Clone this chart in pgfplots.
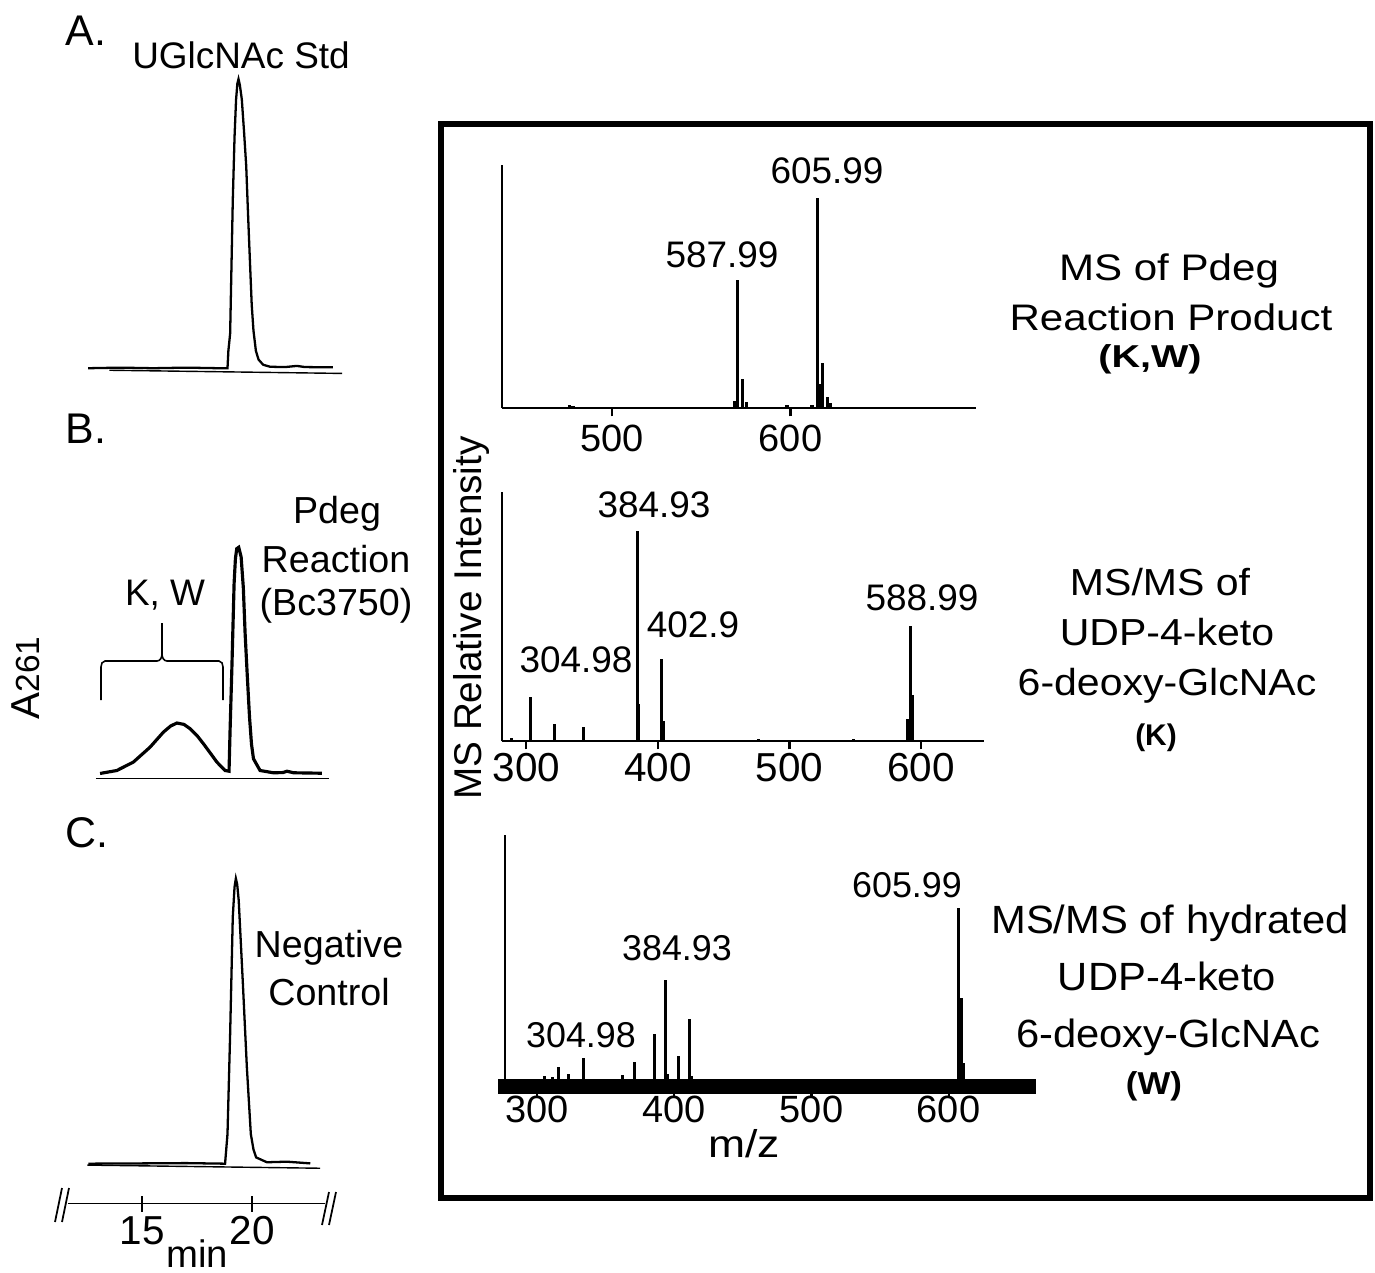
\documentclass[border=0pt]{standalone}
\usepackage{fontspec}
\setmainfont{Liberation Sans}
\usepackage{graphicx}
\usepackage{pgfplots}
\pgfplotsset{compat=1.18}

\newcommand\fs[1]{\fontsize{#1}{#1}\selectfont}

\pgfplotsset{
  chrom/.style={scale only axis, anchor=south west, clip=false,
    xmin=11.636, xmax=23.318, width=2.57cm},
  ms/.style={scale only axis, anchor=south west, clip=false,
    axis x line=bottom, axis y line=left, axis line style={-, line width=0.6pt},
    ymin=0, ymax=1, ytick=\empty, tick align=outside,
    major tick length=0.08cm, xtick style={line width=0.6pt, black},
    /pgf/number format/assume math mode=true},
  stick/.style={ycomb, black, mark=none, line width=1pt},
}

\begin{document}
\begin{tikzpicture}[x=0.01cm, y=-0.01cm]
\useasboundingbox (0,0) rectangle (1375,1272);

% ---------------- HPLC traces (minutes vs A261) ----------------
\begin{axis}[chrom, axis lines=none, at={(0.68cm,-3.969cm)},
    ymin=-0.1, ymax=1, height=3.179cm]
\addplot[black, line width=0.65pt] coordinates {
 (12.55,0) (14.0,0.002) (15.5,0) (17.0,0.002) (18.5,0) (18.88,0)
 (18.92,0.06) (19.0,0.12) (19.06,0.35) (19.12,0.58) (19.2,0.80)
 (19.27,0.93) (19.33,0.985) (19.38,1.0) (19.44,0.98) (19.53,0.93)
 (19.63,0.82) (19.73,0.70) (19.82,0.52) (19.91,0.35) (19.98,0.22)
 (20.06,0.13) (20.17,0.06) (20.29,0.03) (20.5,0.012) (20.82,0.005)
 (21.5,0.004) (22.03,0.008) (22.4,0.004) (23.67,0.003)};
\addplot[black, line width=0.4pt] coordinates {(13.51,-0.007) (24.09,-0.018)};
\end{axis}

\begin{axis}[chrom, axis lines=none, at={(0.68cm,-7.956cm)},
    ymin=-0.1, ymax=1, height=2.486cm]
\addplot[black, line width=0.9pt] coordinates {
 (13.09,0) (13.85,0.013) (14.6,0.05) (15.36,0.116) (15.97,0.183)
 (16.3,0.21) (16.58,0.223) (16.9,0.217) (17.18,0.198) (17.5,0.167)
 (17.79,0.131) (18.1,0.09) (18.4,0.05) (18.77,0.013) (18.95,0.01)
 (19.0,0.2) (19.08,0.47) (19.18,0.84) (19.24,0.95) (19.30,0.994)
 (19.39,1.0) (19.5,0.957) (19.6,0.82) (19.68,0.62) (19.78,0.43)
 (19.88,0.25) (19.97,0.13) (20.06,0.065) (20.36,0.013) (20.97,0.003)
 (21.4,0.004) (21.58,0.01) (21.88,0.003) (23.17,0.001)};
\addplot[black, line width=0.4pt] coordinates {(12.9,-0.021) (23.47,-0.021)};
\end{axis}

\begin{axis}[chrom, at={(0.68cm,-12.03cm)}, ymin=-0.1404, ymax=1, height=3.25cm,
    axis x line=bottom, axis y line=none, axis line style={-, line width=0.4pt},
    xtick={15,20}, tick align=center, major tick length=0.16cm,
    xtick style={black, line width=0.4pt},
    /pgf/number format/assume math mode=true,
    xticklabel style={anchor=base, yshift=-0.33cm, font=\fs{11.5}}]
\addplot[black, line width=0.65pt] coordinates {
 (12.56,0) (15.0,0.001) (17.0,0.002) (18.77,0) (18.88,0.104)
 (19.0,0.455) (19.12,0.865) (19.2,0.97) (19.26,1.0) (19.32,0.98)
 (19.39,0.923) (19.58,0.63) (19.76,0.338) (19.94,0.104) (20.06,0.05)
 (20.18,0.022) (20.67,0.005) (21.58,0.007) (22.64,0.001)};
\addplot[black, line width=0.4pt] coordinates {(12.51,-0.005) (23.09,-0.016)};
\end{axis}

% ---------------- MS spectra ----------------
\begin{axis}[ms, at={(5.02cm,-4.08cm)}, xmin=438.2, xmax=703.9, width=4.73cm, height=2.43cm,
    xtick={500,600}, xticklabel style={anchor=base, yshift=-0.35cm, font=\fs{10.8}}]
\addplot[stick] coordinates {
 (476,0.012) (478,0.008) (568.8,0.03) (570.2,0.527) (573.0,0.12) (575.3,0.025)
 (598,0.012) (612,0.015) (615.2,0.864) (616.5,0.10) (617.9,0.185)
 (620.8,0.045) (622.5,0.02)};
\end{axis}

\begin{axis}[ms, at={(5.02cm,-7.41cm)}, xmin=281.75, xmax=647.5, width=4.81cm, height=2.49cm,
    xtick={300,400,500,600}, xticklabel style={anchor=base, yshift=-0.32cm, font=\fs{11.5}}]
\addplot[stick, line width=0.9pt] coordinates {
 (288.6,0.012) (303.0,0.18) (321.3,0.072) (343.3,0.056)
 (384.4,0.843) (385.2,0.15) (402.6,0.33) (404.2,0.084)
 (476.4,0.01) (548.6,0.01) (589.7,0.092) (592.0,0.462) (593.5,0.185)};
\end{axis}

\begin{axis}[ms, at={(5.05cm,-10.855cm)}, xmin=276.6, xmax=663.5, width=5.30cm, height=2.505cm,
    ymin=-0.0309, major tick length=0.12cm,
    x axis line style={line width=4.3pt, shorten <=-0.07cm},
    xtick={300,400,500,600}, xticklabel style={anchor=base, yshift=-0.245cm, font=\fs{10.8}}]
\addplot[stick, line width=0.9pt] coordinates {
 (305.1,0.01) (310.9,0.008) (315.3,0.049) (322.6,0.02) (333.6,0.086)
 (362.0,0.016) (370.8,0.07) (385.4,0.185) (393.4,0.407) (394.9,0.02)
 (402.9,0.095) (410.9,0.247) (412.4,0.012)
 (607.3,0.70) (609.5,0.33) (611.0,0.066)};
\end{axis}

% ---------------- frame, brace, breaks ----------------
\draw[line width=1.6pt] (441,124) rectangle (1370,1198);
\draw[line width=0.45pt] (101,700) -- (101,667) to[out=90,in=180] (105,661) -- (157,661)
  to[out=0,in=-90] (162,654) -- (162,623);
\draw[line width=0.45pt] (162,654) to[out=-90,in=180] (167,661) -- (219,661)
  to[out=0,in=90] (223,667) -- (223,700);
\draw[line width=0.5pt] (55,1222) -- (62,1188) (62,1222) -- (69,1188)
  (322,1225) -- (329,1192) (329,1225) -- (336,1192);

% ---------------- texts ----------------
\node[anchor=base west, inner sep=0, font=\fs{12.2}] at (65,45) {A.};
\node[anchor=base, font=\fs{10.5}] at (241,68) {UGlcNAc Std};
\node[anchor=base west, inner sep=0, font=\fs{12.2}] at (65,443) {B.};
\node[anchor=base, font=\fs{10.5}] at (165,605) {K, W};
\node[anchor=base, font=\fs{10.7}] at (337,523) {Pdeg};
\node[anchor=base, font=\fs{10.7}] at (336,572) {Reaction};
\node[anchor=base, font=\fs{10.7}] at (336,615) {(Bc3750)};
\node[anchor=base west, inner sep=0, font=\fs{12.2}] at (65,847) {C.};
\node[anchor=base, font=\fs{10.7}] at (329,957) {Negative};
\node[anchor=base, font=\fs{10.7}] at (329,1005) {Control};
\node[anchor=base, inner sep=0, font=\fs{10.9}] at (197,1267) {min};
\node[anchor=base, rotate=90, font=\fs{11.5}] at (40,678) {A{\fs{9.5}261}};

\node[anchor=base, rotate=90, font=\fs{11}] at (481,618) {MS Relative Intensity};
\node[anchor=base, font=\fs{11}] at (744,1157) {\scalebox{1.15}[1]{m/z}};

\node[anchor=base, font=\fs{10.5}] at (722,267) {587.99};
\node[anchor=base, font=\fs{10.5}] at (827,183) {605.99};
\node[anchor=base, font=\fs{10.5}] at (654,517) {384.93};
\node[anchor=base, font=\fs{10.5}] at (693,637) {402.9};
\node[anchor=base, font=\fs{10.5}] at (576,672) {304.98};
\node[anchor=base, font=\fs{10.5}] at (922,610) {588.99};
\node[anchor=base, font=\fs{10.2}] at (907,897) {605.99};
\node[anchor=base, font=\fs{10.2}] at (677,960) {384.93};
\node[anchor=base, font=\fs{10.2}] at (581,1047) {304.98};

\node[anchor=base, font=\fs{10.5}] at (1169,280) {\scalebox{1.14}[1]{MS of Pdeg}};
\node[anchor=base, font=\fs{10.5}] at (1171,330) {\scalebox{1.14}[1]{Reaction Product}};
\node[anchor=base, font=\bfseries\fs{9}] at (1150,367) {\scalebox{1.25}[1]{(K,W)}};
\node[anchor=base, font=\fs{10.7}] at (1160,595) {\scalebox{1.09}[1]{MS/MS of}};
\node[anchor=base, font=\fs{10.7}] at (1167,645) {\scalebox{1.09}[1]{UDP-4-keto}};
\node[anchor=base, font=\fs{10.7}] at (1167,695) {\scalebox{1.09}[1]{6-deoxy-GlcNAc}};
\node[anchor=base, font=\bfseries\fs{8.5}] at (1156,745) {(K)};
\node[anchor=base, font=\fs{11.2}] at (1170,933) {\scalebox{1.06}[1]{MS/MS of hydrated}};
\node[anchor=base, font=\fs{11.2}] at (1167,990) {\scalebox{1.06}[1]{UDP-4-keto}};
\node[anchor=base, font=\fs{11.2}] at (1168,1047) {\scalebox{1.06}[1]{6-deoxy-GlcNAc}};
\node[anchor=base, font=\bfseries\fs{9}] at (1154,1094) {\scalebox{1.1}[1]{(W)}};
\end{tikzpicture}
\end{document}
